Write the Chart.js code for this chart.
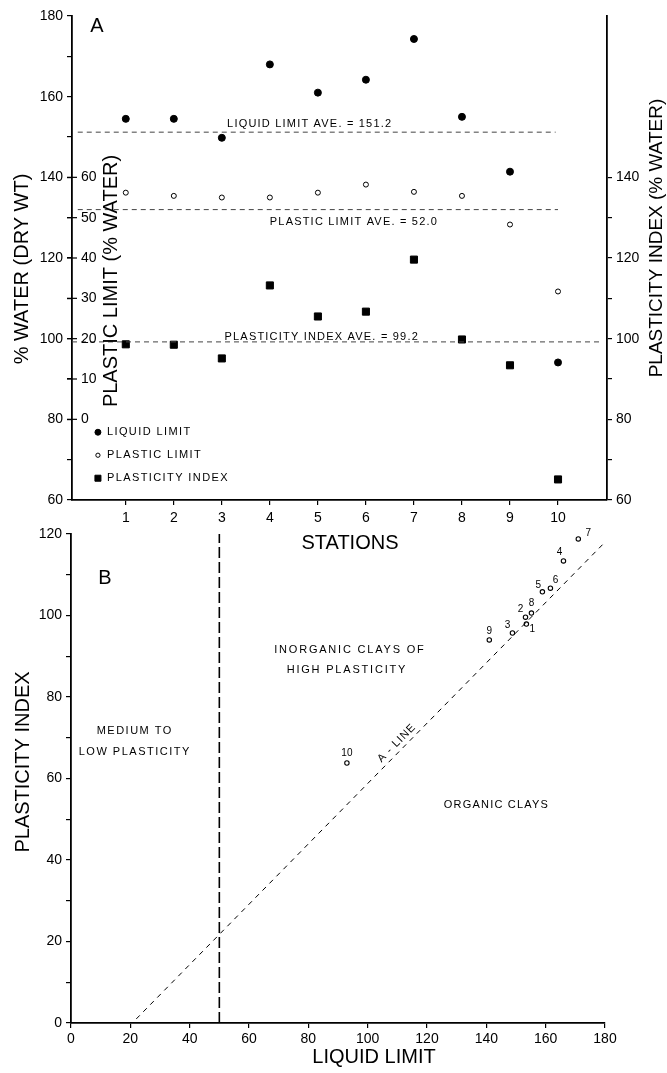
<!DOCTYPE html>
<html>
<head>
<meta charset="utf-8">
<title>Atterberg limits by station</title>
<script src="https://cdn.jsdelivr.net/npm/chart.js@4.4.1/dist/chart.umd.min.js"></script>
<style>
  html, body { margin: 0; padding: 0; background: #fff; }
  #wrap { position: relative; width: 667px; height: 1073px; overflow: hidden; }
  #wrap canvas { position: absolute; left: 0; }
  #chartA { top: 0; }
  #chartB { top: 510px; }
</style>
</head>
<body>
<div id="wrap">
  <canvas id="chartB" width="667" height="563"></canvas>
  <canvas id="chartA" width="667" height="560"></canvas>
</div>
<script>
// panel A: values by station
const stations = [1, 2, 3, 4, 5, 6, 7, 8, 9, 10];
const liquidLimit = [154.5, 154.5, 149.8, 168, 161, 164.2, 174.3, 155, 141.4, 94.1];
const plasticLimit = [56.2, 55.4, 55, 55, 56.2, 58.2, 56.4, 55.4, 48.3, 31.7];
const plasticityIndex = [98.6, 98.5, 95.1, 113.2, 105.5, 106.7, 119.6, 99.8, 93.4, 65.1];

const liquidLimitAve = 151.2;
const plasticLimitAve = 52.0;
const plasticityIndexAve = 99.2;
const llAveX = [0, 9.95];
const plAveX = [0, 10];
const piAveX = [-0.12, 10.9];
const plTicks = [0, 10, 20, 30, 40, 50, 60];

// panel B: plasticity chart
const chartLL = [153.5, 153.2, 148.8, 166, 158.9, 161.6, 171, 155.2, 141, 93];
const chartPI = [97.9, 99.6, 95.7, 113.4, 105.8, 106.7, 118.8, 100.6, 94, 63.8];
const aLineLL = [22, 180];
const aLinePI = [1, 118];
const boundaryLL = [50, 50];
const boundaryPI = [0, 120];

// label nudges for the station numbers in B (pixels)
const labelOffsets = [[6, 5], [-5, -8], [-5, -8], [-4, -9], [-4, -7], [5, -8], [10, -6], [0, -10], [0, -9], [0, -10]];

const FONT = "'Liberation Sans', Arial, sans-serif";

function txt(ctx, s, x, y, o) {
  ctx.save();
  ctx.font = (o.weight || 'normal') + ' ' + o.size + 'px ' + FONT;
  ctx.fillStyle = '#000';
  ctx.textAlign = o.align || 'center';
  ctx.textBaseline = 'middle';
  ctx.letterSpacing = (o.spacing || 0) + 'px';
  ctx.translate(x, y);
  if (o.rot) ctx.rotate(o.rot);
  ctx.fillText(s, 0, 0);
  ctx.restore();
}

function pts(xs, ys) {
  return xs.map((x, i) => ({ x: x, y: ys[i] }));
}

const tickFont = { family: FONT, size: 14 };
const axisGrid = { drawOnChartArea: false, color: '#000', tickLength: 5, lineWidth: 1.2 };
const axisBorder = { display: true, color: '#000', width: 1.8 };
const evenOnly = v => (v % 20 === 0 ? v : '');

const llStyle = { pointStyle: 'circle', pointRadius: 3.5, backgroundColor: '#000', borderColor: '#000', borderWidth: 1 };
const plStyle = { pointStyle: 'circle', pointRadius: 2.5, backgroundColor: '#fff', borderColor: '#000', borderWidth: 1 };
const piStyle = { pointStyle: 'rect', pointRadius: 5, backgroundColor: '#000', borderColor: '#000', borderWidth: 1 };

function aveLine(xs, v, axis) {
  return {
    data: pts(xs, [v, v]), yAxisID: axis, showLine: true, pointRadius: 0,
    borderColor: '#444', borderWidth: 1, borderDash: [5, 4]
  };
}

const panelA = {
  id: 'panelA',
  afterDraw(chart) {
    const ctx = chart.ctx;
    const a = chart.chartArea;
    const sx = chart.scales.x, sy = chart.scales.y, spl = chart.scales.yPL;

    // plastic limit scale laid over the left axis
    ctx.save();
    ctx.strokeStyle = '#000';
    ctx.lineWidth = 1.2;
    plTicks.forEach(v => {
      const py = spl.getPixelForValue(v);
      ctx.beginPath();
      ctx.moveTo(a.left - 5, py);
      ctx.lineTo(a.left + 5, py);
      ctx.stroke();
      txt(ctx, String(v), a.left + 9, py, { size: 14, align: 'left' });
    });
    ctx.restore();

    txt(ctx, '% WATER (DRY WT)', 22, 269, { size: 20, rot: -Math.PI / 2 });
    txt(ctx, 'PLASTIC LIMIT (% WATER)', 111, 281, { size: 20, rot: -Math.PI / 2 });
    txt(ctx, 'PLASTICITY INDEX (% WATER)', 657, 238, { size: 19, rot: -Math.PI / 2 });
    txt(ctx, 'STATIONS', 350, 543, { size: 20 });

    txt(ctx, 'A', sx.getPixelForValue(0.4), sy.getPixelForValue(177.5), { size: 20 });

    txt(ctx, 'LIQUID LIMIT AVE. = ' + liquidLimitAve.toFixed(1), sx.getPixelForValue(4.83), sy.getPixelForValue(153.3), { size: 11, spacing: 1.2 });
    txt(ctx, 'PLASTIC LIMIT AVE. = ' + plasticLimitAve.toFixed(1), sx.getPixelForValue(5.75), sy.getPixelForValue(129), { size: 11, spacing: 1.2 });
    txt(ctx, 'PLASTICITY INDEX AVE. = ' + plasticityIndexAve.toFixed(1), sx.getPixelForValue(5.08), sy.getPixelForValue(100.5), { size: 11, spacing: 1.2 });

    // legend
    const items = [['LIQUID LIMIT', llStyle, 76.8], ['PLASTIC LIMIT', plStyle, 71.1], ['PLASTICITY INDEX', piStyle, 65.4]];
    items.forEach(([name, st, yv]) => {
      const px = sx.getPixelForValue(0.42), py = sy.getPixelForValue(yv);
      ctx.save();
      ctx.fillStyle = st.backgroundColor;
      ctx.strokeStyle = st.borderColor;
      ctx.lineWidth = st.borderWidth;
      Chart.helpers.drawPoint(ctx, { pointStyle: st.pointStyle, radius: st.pointRadius * 0.85, borderWidth: st.borderWidth }, px, py);
      ctx.restore();
      txt(ctx, name, px + 9, py, { size: 11, align: 'left', spacing: 1.4 });
    });
  }
};

new Chart(document.getElementById('chartA'), {
  type: 'scatter',
  data: {
    datasets: [
      aveLine(llAveX, liquidLimitAve, 'y'),
      aveLine(plAveX, plasticLimitAve, 'yPL'),
      aveLine(piAveX, plasticityIndexAve, 'yPI'),
      Object.assign({ label: 'LIQUID LIMIT', data: pts(stations, liquidLimit), yAxisID: 'y' }, llStyle),
      Object.assign({ label: 'PLASTIC LIMIT', data: pts(stations, plasticLimit), yAxisID: 'yPL' }, plStyle),
      Object.assign({ label: 'PLASTICITY INDEX', data: pts(stations, plasticityIndex), yAxisID: 'yPI' }, piStyle)
    ]
  },
  options: {
    responsive: false,
    animation: false,
    layout: { padding: { top: 16, left: 0, right: 0, bottom: 0 } },
    plugins: { legend: { display: false }, tooltip: { enabled: false } },
    scales: {
      x: {
        type: 'linear', min: -0.12, max: 11.02,
        afterBuildTicks: s => { s.ticks = stations.map(v => ({ value: v })); },
        afterFit: s => { s.height = 60; },
        grid: axisGrid, border: axisBorder,
        ticks: { font: tickFont, color: '#000', padding: 5, maxRotation: 0 }
      },
      y: {
        position: 'left', min: 60, max: 180,
        afterFit: s => { s.width = 72; },
        grid: axisGrid, border: axisBorder,
        ticks: { stepSize: 10, font: tickFont, color: '#000', padding: 4, callback: evenOnly }
      },
      yPI: {
        position: 'right', min: 60, max: 180,
        afterBuildTicks: s => { s.ticks = s.ticks.filter(t => t.value <= 140); },
        afterFit: s => { s.width = 60; },
        grid: axisGrid, border: axisBorder,
        ticks: { stepSize: 10, font: tickFont, color: '#000', padding: 4, callback: evenOnly }
      },
      yPL: { display: false, min: -20, max: 100 }
    }
  },
  plugins: [panelA]
});

const panelB = {
  id: 'panelB',
  afterDraw(chart) {
    const ctx = chart.ctx;
    const sx = chart.scales.x, sy = chart.scales.y;

    txt(ctx, 'PLASTICITY INDEX', 23, 252, { size: 20, rot: -Math.PI / 2 });
    txt(ctx, 'LIQUID LIMIT', 374, 547, { size: 20 });
    txt(ctx, 'B', sx.getPixelForValue(11.4), sy.getPixelForValue(109.2), { size: 20 });

    txt(ctx, 'MEDIUM TO', sx.getPixelForValue(21.5), sy.getPixelForValue(71.7), { size: 11, spacing: 1.5 });
    txt(ctx, 'LOW PLASTICITY', sx.getPixelForValue(21.5), sy.getPixelForValue(66.5), { size: 11, spacing: 1.5 });
    txt(ctx, 'INORGANIC CLAYS OF', sx.getPixelForValue(94), sy.getPixelForValue(91.5), { size: 11, spacing: 1.8 });
    txt(ctx, 'HIGH PLASTICITY', sx.getPixelForValue(93), sy.getPixelForValue(86.6), { size: 11, spacing: 1.8 });
    txt(ctx, 'ORGANIC CLAYS', sx.getPixelForValue(143.4), sy.getPixelForValue(53.5), { size: 11, spacing: 1.2 });

    const ang = Math.atan2(sy.getPixelForValue(aLinePI[1]) - sy.getPixelForValue(aLinePI[0]),
                           sx.getPixelForValue(aLineLL[1]) - sx.getPixelForValue(aLineLL[0]));
    txt(ctx, 'A - LINE', sx.getPixelForValue(109.8), sy.getPixelForValue(68.7), { size: 11, spacing: 1, rot: ang });

    stations.forEach((s, i) => {
      const px = sx.getPixelForValue(chartLL[i]), py = sy.getPixelForValue(chartPI[i]);
      txt(ctx, String(s), px + labelOffsets[i][0], py + labelOffsets[i][1], { size: 10 });
    });
  }
};

new Chart(document.getElementById('chartB'), {
  type: 'scatter',
  data: {
    datasets: [
      {
        label: 'boundary', data: pts(boundaryLL, boundaryPI), showLine: true, pointRadius: 0,
        borderColor: '#000', borderWidth: 1.6, borderDash: [11, 4]
      },
      {
        label: 'A-line', data: pts(aLineLL, aLinePI), showLine: true, pointRadius: 0,
        borderColor: '#000', borderWidth: 1, borderDash: [5, 5]
      },
      {
        label: 'stations', data: pts(chartLL, chartPI),
        pointStyle: 'circle', pointRadius: 2.2, backgroundColor: '#fff', borderColor: '#000', borderWidth: 1.1
      }
    ]
  },
  options: {
    responsive: false,
    animation: false,
    layout: { padding: { top: 24, left: 0, right: 62, bottom: 0 } },
    plugins: { legend: { display: false }, tooltip: { enabled: false } },
    scales: {
      x: {
        type: 'linear', min: 0, max: 180,
        afterFit: s => { s.height = 50; },
        grid: axisGrid, border: axisBorder,
        ticks: { stepSize: 20, font: tickFont, color: '#000', padding: 3, maxRotation: 0 }
      },
      y: {
        min: 0, max: 120,
        afterFit: s => { s.width = 71; },
        grid: axisGrid, border: axisBorder,
        ticks: { stepSize: 10, font: tickFont, color: '#000', padding: 4, callback: evenOnly }
      }
    }
  },
  plugins: [panelB]
});
</script>
</body>
</html>
